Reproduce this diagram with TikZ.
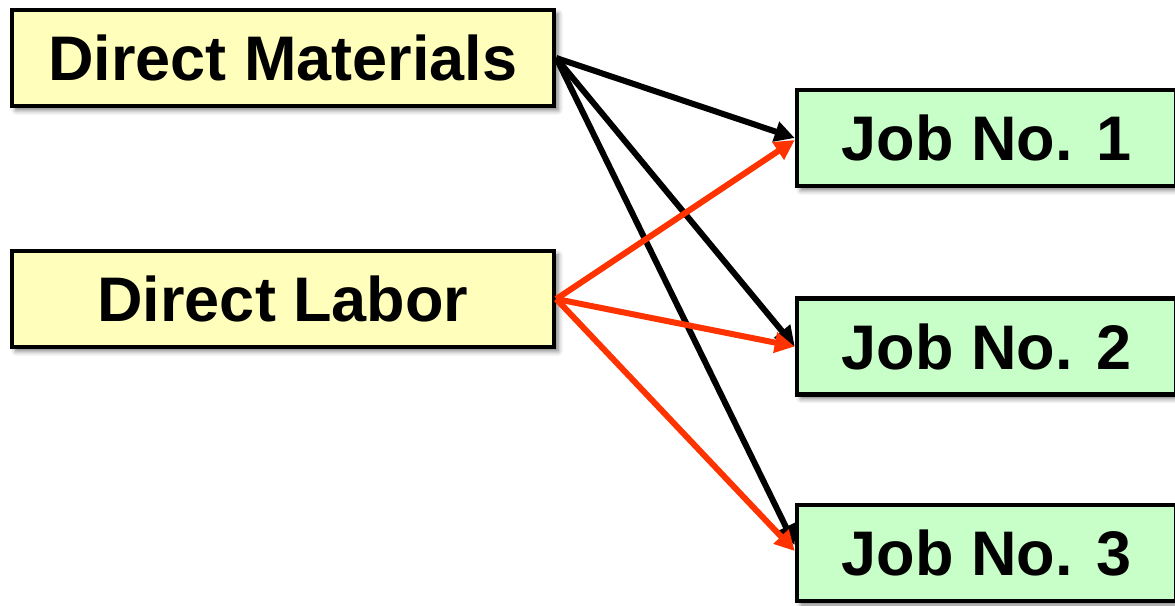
\documentclass[tikz,border=0pt]{standalone}
\usepackage{fontspec}
\setmainfont{Liberation Sans}
\usetikzlibrary{arrows.meta,shadows.blur}
\definecolor{srcfill}{HTML}{FFFFBB}
\definecolor{jobfill}{HTML}{C8FFC8}
\definecolor{laborred}{HTML}{FF3300}
\tikzset{
  box/.style={draw=black, line width=4.5pt, inner sep=0pt,
    font=\fontsize{63}{70}\selectfont\bfseries,
    blur shadow={shadow xshift=4pt, shadow yshift=-4pt, shadow blur radius=5pt, shadow opacity=55}},
  srcbox/.style={box, fill=srcfill, minimum width=542pt, minimum height=96pt},
  jobbox/.style={box, fill=jobfill, minimum width=379pt, minimum height=96pt},
  matarrow/.style={draw=black, line width=6pt, -{Triangle[length=20pt,width=20pt]}},
  labarrow/.style={draw=laborred, line width=6pt, -{Triangle[length=20pt,width=20pt]}}
}
\begin{document}
\begin{tikzpicture}[x=1pt,y=1pt]
\useasboundingbox (0,0) rectangle (1175,605);
\clip (0,0) rectangle (1175,605);
\node[srcbox] (dm) at (283,547) {Direct Materials};
\node[srcbox] (dl) at (283,306) {Direct Labor};
\node[jobbox] (j1) at (986.5,467) {Job No. 1};
\node[jobbox] (j2) at (986.5,258.5) {Job No. 2};
\node[jobbox] (j3) at (986.5,52) {Job No. 3};
\draw[matarrow] (dm.east) -- (j1.west);
\draw[matarrow] (dm.east) -- (j2.west);
\draw[matarrow] (dm.east) -- ([yshift=8pt]j3.west);
\draw[labarrow] (dl.east) -- ([yshift=-2pt]j1.west);
\draw[labarrow] (dl.east) -- (j2.west);
\draw[labarrow] (dl.east) -- ([yshift=2pt]j3.west);
\end{tikzpicture}
\end{document}
